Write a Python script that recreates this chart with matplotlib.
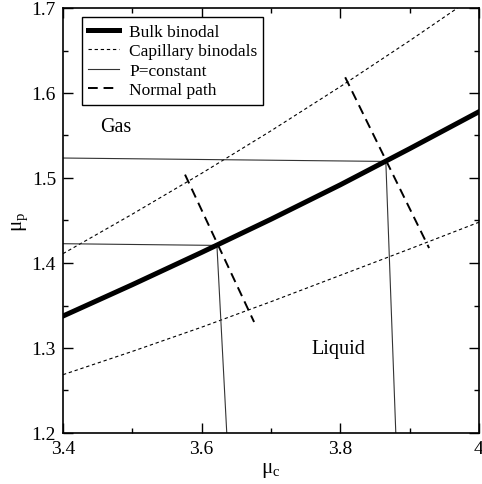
import matplotlib
matplotlib.use("Agg")
import matplotlib.pyplot as plt
from matplotlib.ticker import MultipleLocator

plt.rcParams['font.family'] = ['Liberation Serif', 'DejaVu Serif']
plt.rcParams['mathtext.fontset'] = 'stix'

# Data
mu_c = [3.4, 3.5, 3.6, 3.7, 3.8, 3.9, 4.0]
bulk_binodal = [1.3376, 1.3745, 1.4125, 1.4515, 1.4920, 1.5345, 1.578]
cap_upper_x = [3.4, 3.5, 3.6, 3.7, 3.8, 3.9, 3.969]
cap_upper_y = [1.411, 1.4575, 1.5055, 1.5555, 1.6075, 1.6615, 1.70]
cap_lower = [1.2686, 1.2960, 1.3245, 1.3545, 1.3855, 1.4165, 1.448]

p_const1_x = [3.4, 3.622, 3.6362]
p_const1_y = [1.4227, 1.4207, 1.2]
p_const2_x = [3.4, 3.8656, 3.880]
p_const2_y = [1.5235, 1.5195, 1.2]

normal1_x = [3.576, 3.6756]
normal1_y = [1.504, 1.3306]
normal2_x = [3.807, 3.928]
normal2_y = [1.6185, 1.4176]

fig = plt.figure(figsize=(4.82, 4.85), dpi=100)
ax = fig.add_axes([63/482, 1-434/485, 416/482, 425/485])

ax.plot(mu_c, bulk_binodal, color='black', lw=3.6, label='Bulk binodal', zorder=4)
ax.plot(cap_upper_x, cap_upper_y, color='black', lw=0.8, dashes=(3, 2.5), label='Capillary binodals')
ax.plot(mu_c, cap_lower, color='black', lw=0.8, dashes=(3, 2.5))
ax.plot(p_const1_x, p_const1_y, color='#333333', lw=0.8, label='P=constant')
ax.plot(p_const2_x, p_const2_y, color='#333333', lw=0.8)
ax.plot(normal1_x, normal1_y, color='black', lw=1.4, dashes=(5, 3), label='Normal path')
ax.plot(normal2_x, normal2_y, color='black', lw=1.4, dashes=(5, 3))

ax.text(3.4534, 1.5553, 'Gas', fontsize=14.5, ha='left', va='baseline')
ax.text(3.7587, 1.2941, 'Liquid', fontsize=14.5, ha='left', va='baseline')

ax.set_xlim(3.4, 4.0)
ax.set_ylim(1.2, 1.7)
ax.set_xticks([3.4, 3.6, 3.8, 4.0])
ax.set_xticklabels(['3.4', '3.6', '3.8', '4'])
ax.set_yticks([1.2, 1.3, 1.4, 1.5, 1.6, 1.7])
ax.xaxis.set_minor_locator(MultipleLocator(0.1))
ax.yaxis.set_minor_locator(MultipleLocator(0.05))
ax.tick_params(which='both', direction='in', top=True, right=True, labelsize=14, width=1)
ax.tick_params(which='major', length=7, pad=5)
ax.tick_params(which='minor', length=3.6)
for s in ax.spines.values():
    s.set_linewidth(1.2)

ax.set_xlabel(r'$\mathregular{μ_c}$', fontsize=15, labelpad=2)
ax.set_ylabel(r'$\mathregular{μ_p}$', fontsize=15, labelpad=1)

leg = ax.legend(loc='upper left', bbox_to_anchor=(0.046, 0.978), borderaxespad=0,
                fontsize=12.5, frameon=True, fancybox=False, edgecolor='black',
                framealpha=1, handlelength=1.75, handletextpad=0.6,
                labelspacing=0.2, borderpad=0.35)
leg.get_frame().set_linewidth(1.0)

fig.savefig('out.png', dpi=100)
